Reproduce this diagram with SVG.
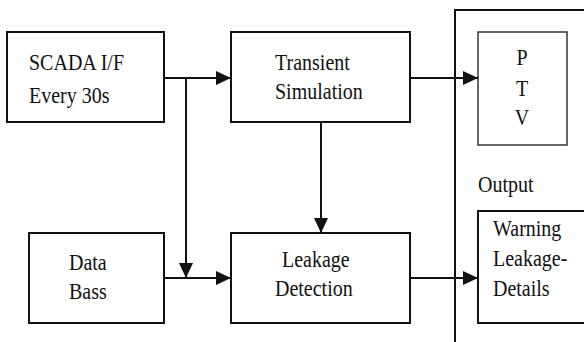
<svg xmlns="http://www.w3.org/2000/svg" width="584" height="342" viewBox="0 0 584 342">
  <style>
    .box { fill: #fff; stroke: #111; stroke-width: 2; }
    .thin { fill: #fff; stroke: #333; stroke-width: 1.5; }
    .wire { fill: none; stroke: #111; stroke-width: 2; }
    .lbl { font-family: 'Liberation Serif', 'DejaVu Serif', serif; font-size: 20px; fill: #111; }
  </style>
  <defs>
    <marker id="arrow" markerUnits="userSpaceOnUse" markerWidth="16" markerHeight="16" viewBox="0 0 16 16" refX="15" refY="8" orient="auto">
      <path d="M0,1 L15,8 L0,15 Z" fill="#111"/>
    </marker>
  </defs>

  <!-- output frame -->
  <path class="wire" d="M455,342 V10 H584"/>

  <g id="scada">
    <rect class="box" x="7" y="32" width="157" height="90"/>
    <text class="lbl" transform="translate(29,70) scale(1,1.15)">SCADA I/F</text>
    <text class="lbl" transform="translate(29,103) scale(1,1.15)">Every 30s</text>
  </g>

  <g id="transient">
    <rect class="box" x="231" y="32" width="179" height="90"/>
    <text class="lbl" transform="translate(275,70) scale(1,1.15)">Transient</text>
    <text class="lbl" transform="translate(275,99) scale(1,1.15)">Simulation</text>
  </g>

  <g id="database">
    <rect class="box" x="29" y="233" width="135" height="90"/>
    <text class="lbl" transform="translate(69,270) scale(1,1.15)">Data</text>
    <text class="lbl" transform="translate(69,299) scale(1,1.15)">Bass</text>
  </g>

  <g id="leakage">
    <rect class="box" x="231" y="233" width="179" height="90"/>
    <text class="lbl" transform="translate(282,267) scale(1,1.15)">Leakage</text>
    <text class="lbl" transform="translate(275,296) scale(1,1.15)">Detection</text>
  </g>

  <g id="ptv">
    <rect class="thin" x="478" y="32" width="89" height="113"/>
    <text class="lbl" text-anchor="middle" transform="translate(522,65) scale(1,1.15)">P</text>
    <text class="lbl" text-anchor="middle" transform="translate(522,96) scale(1,1.15)">T</text>
    <text class="lbl" text-anchor="middle" transform="translate(522,125) scale(1,1.15)">V</text>
  </g>

  <g id="output-label">
    <text class="lbl" transform="translate(478,192) scale(1,1.15)">Output</text>
  </g>

  <g id="warning">
    <rect class="box" x="478" y="211" width="112" height="112"/>
    <text class="lbl" transform="translate(493,236) scale(1,1.15)">Warning</text>
    <text class="lbl" transform="translate(493,266) scale(1,1.15)">Leakage-</text>
    <text class="lbl" transform="translate(493,296) scale(1,1.15)">Details</text>
  </g>

  <g id="connectors">
    <path class="wire" d="M164,78 H231" marker-end="url(#arrow)"/>
    <path class="wire" d="M186,78 V278" marker-end="url(#arrow)"/>
    <path class="wire" d="M410,78 H478" marker-end="url(#arrow)"/>
    <path class="wire" d="M321,122 V233" marker-end="url(#arrow)"/>
    <path class="wire" d="M164,278 H231" marker-end="url(#arrow)"/>
    <path class="wire" d="M410,278 H478" marker-end="url(#arrow)"/>
  </g>
</svg>
